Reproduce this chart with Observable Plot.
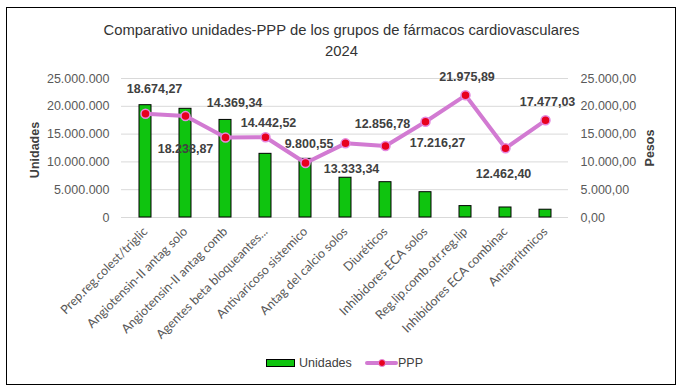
<!DOCTYPE html>
<html>
<head>
<meta charset="utf-8">
<script src="https://cdn.jsdelivr.net/npm/d3@7"></script>
<script src="https://cdn.jsdelivr.net/npm/@observablehq/plot@0.6"></script>
<style>
  html, body { margin: 0; padding: 0; background: #fff; }
  #wrap { position: relative; width: 683px; height: 390px; overflow: hidden; font-family: "Liberation Sans", Arial, sans-serif; }
  #wrap svg { position: absolute; left: 0; top: 0; }
  .abs { position: absolute; white-space: nowrap; }
</style>
</head>
<body>
<div id="wrap"></div>
<script>
// ---- data ----
const categories = [
  "Prep.reg.colest/triglic",
  "Angiotensin-II antag solo",
  "Angiotensin-II antag comb",
  "Agentes beta bloqueantes...",
  "Antivaricoso sistemico",
  "Antag del calcio solos",
  "Diuréticos",
  "Inhibidores ECA solos",
  "Reg.lip.comb.otr.reg.lip",
  "Inhibidores ECA combinac",
  "Antiarritmicos"
];
const unidades = [20200000, 19550000, 17550000, 11450000, 10550000, 7150000, 6350000, 4550000, 2050000, 1800000, 1400000];
const ppp = [18674.27, 18238.87, 14369.34, 14442.52, 9800.55, 13333.34, 12856.78, 17216.27, 21975.89, 12462.40, 17477.03];
const leftTicks = [0, 5000000, 10000000, 15000000, 20000000, 25000000];

// label offsets (layout only)
const labelDx = [9, 0, 9, 3, 3.5, 6, -3, 12, 1.5, -2, 2];
const labelDy = [-25, 33, -35, -14, -19.5, 26, -22.5, 21.5, -18, 26, -18];

const table = categories.map((c, i) => ({cat: c, units: unidades[i], ppp: ppp[i], i}));

const loc = d3.formatLocale({decimal: ",", thousands: ".", grouping: [3], currency: ["$", ""]});
const fmt0 = loc.format(",.0f");
const fmt2 = loc.format(",.2f");
const SCALE = 1000; // PPP secondary axis: 25.000,00 <-> 25.000.000

const wrap = document.getElementById("wrap");

const marks = [
  Plot.ruleY(leftTicks, {stroke: "#d9d9d9", strokeWidth: 1}),
  Plot.barY(table, {x: "cat", y: "units", fill: "#0FC40F", stroke: "#000", strokeWidth: 1}),
  Plot.lineY(table, {x: "cat", y: d => d.ppp * SCALE, stroke: "#D27AD2", strokeWidth: 4}),
  Plot.dot(table, {x: "cat", y: d => d.ppp * SCALE, r: 4.5, fill: "#E8001E", stroke: "#E48AE0", strokeWidth: 1.5}),
  Plot.axisY({ticks: leftTicks, tickFormat: fmt0, tickSize: 0, tickPadding: 12, fontSize: 12.5, color: "#595959", label: null}),
  Plot.axisY({anchor: "right", ticks: leftTicks, tickFormat: d => fmt2(d / SCALE), tickSize: 0, tickPadding: 12, fontSize: 12.5, color: "#595959", label: null}),
  Plot.axisX({tickRotate: -45, tickSize: 0, tickPadding: 12, fontSize: 12.5, fontFamily: "Lato", color: "#595959", label: null})
];
table.forEach((d, i) => {
  marks.push(Plot.text([d], {x: "cat", y: r => r.ppp * SCALE, text: r => fmt2(r.ppp), dx: labelDx[i], dy: labelDy[i],
    fontWeight: "bold", fontSize: 12.5, fill: "#404040"}));
});

const chart = Plot.plot({
  width: 683,
  height: 390,
  marginLeft: 121,
  marginRight: 115,
  marginTop: 78,
  marginBottom: 173,
  style: {fontFamily: "Liberation Sans, Arial, sans-serif", background: "transparent"},
  x: {domain: categories, paddingInner: 0.7, paddingOuter: 0.35, label: null},
  y: {domain: [0, 25000000], label: null},
  marks
});
wrap.appendChild(chart);

function addDiv(html, css) {
  const el = document.createElement("div");
  el.className = "abs";
  el.innerHTML = html;
  Object.assign(el.style, css);
  wrap.appendChild(el);
  return el;
}

// border
addDiv("", {left: "6px", top: "7px", width: "670px", height: "378px", border: "1.5px solid #000", boxSizing: "border-box"});

// title
addDiv("Comparativo unidades-PPP de los grupos de fármacos cardiovasculares<br>2024",
  {left: "0px", top: "20px", width: "683px", textAlign: "center", fontSize: "14.8px", lineHeight: "21px", color: "#333", whiteSpace: "normal"});

// axis titles
addDiv("Unidades", {left: "35px", top: "150px", fontSize: "12.5px", fontWeight: "bold", color: "#404040",
  transform: "translate(-50%,-50%) rotate(-90deg)"});
addDiv("Pesos", {left: "650px", top: "148px", fontSize: "12.5px", fontWeight: "bold", color: "#404040",
  transform: "translate(-50%,-50%) rotate(-90deg)"});

// legend
addDiv("", {left: "266px", top: "358.5px", width: "29px", height: "8.5px", background: "#0FC40F", border: "1px solid #000", boxSizing: "border-box"});
addDiv("Unidades", {left: "299px", top: "355px", fontSize: "12.5px", lineHeight: "16px", color: "#404040"});
addDiv("", {left: "365px", top: "361px", width: "33px", height: "4px", background: "#D27AD2", borderRadius: "2px"});
addDiv("", {left: "378px", top: "359px", width: "8px", height: "8px", background: "#E8001E", borderRadius: "50%", boxSizing: "border-box", border: "1px solid #E48AE0"});
addDiv("PPP", {left: "398px", top: "355px", fontSize: "12.5px", lineHeight: "16px", color: "#404040"});
</script>
</body>
</html>
